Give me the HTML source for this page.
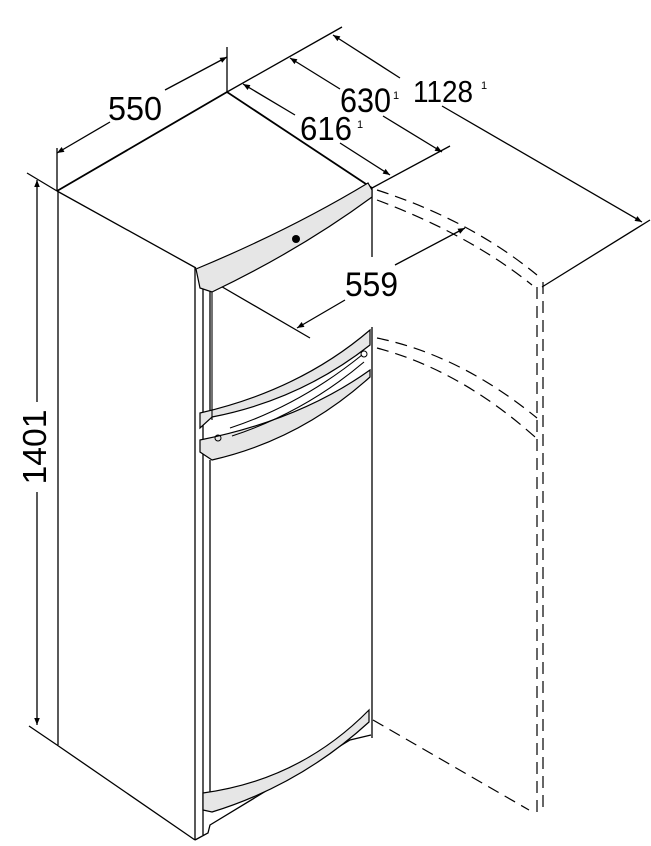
<!DOCTYPE html>
<html><head><meta charset="utf-8"><style>
html,body{margin:0;padding:0;background:#fff;}
svg{display:block;}
text{font-family:"Liberation Sans",sans-serif;fill:#000;}
</style></head><body>
<svg width="651" height="846" viewBox="0 0 651 846" xmlns="http://www.w3.org/2000/svg">
<defs>
<marker id="a" viewBox="0 0 10 10" refX="10" refY="5" markerWidth="9" markerHeight="7" orient="auto-start-reverse" markerUnits="userSpaceOnUse"><path d="M0,1 L10,5 L0,9 z" fill="#000"/></marker>
</defs>
<g stroke="#000" fill="none" stroke-width="1.3">
<line x1="57" y1="148" x2="57" y2="191"/>
<line x1="227" y1="47" x2="227" y2="92"/>
<line x1="227" y1="92" x2="342" y2="27"/>
<line x1="372" y1="188" x2="450" y2="146"/>
<line x1="542" y1="287" x2="650" y2="220"/>
<line x1="27" y1="173" x2="57" y2="191"/>
<line x1="29" y1="726" x2="57" y2="745"/>
<line x1="212" y1="281" x2="310" y2="338"/>
<line x1="57" y1="153" x2="110" y2="122" marker-start="url(#a)"/>
<line x1="165" y1="90" x2="227" y2="57" marker-end="url(#a)"/>
<line x1="243" y1="84" x2="295" y2="115" marker-start="url(#a)"/>
<line x1="340" y1="143" x2="390" y2="175" marker-end="url(#a)"/>
<line x1="290" y1="58" x2="340" y2="89" marker-start="url(#a)"/>
<line x1="383" y1="116" x2="442" y2="152" marker-end="url(#a)"/>
<line x1="333" y1="35" x2="400" y2="78" marker-start="url(#a)"/>
<line x1="442" y1="106" x2="642" y2="222" marker-end="url(#a)"/>
<line x1="465" y1="228" x2="395" y2="265" marker-start="url(#a)"/>
<line x1="345" y1="300" x2="297" y2="328" marker-end="url(#a)"/>
<line x1="37" y1="180" x2="37" y2="402" marker-start="url(#a)"/>
<line x1="37" y1="492" x2="37" y2="725" marker-end="url(#a)"/>
<path d="M57,191 L227,92 L372,188" stroke-width="1.8"/>
<path d="M57,191 L196,268"/>
<line x1="58" y1="191" x2="58" y2="745"/>
<line x1="57" y1="745" x2="195" y2="840"/>
<line x1="195" y1="268" x2="195" y2="840"/>
<line x1="372" y1="188" x2="372" y2="257"/>
<line x1="372" y1="327" x2="372" y2="738"/>
<path d="M195,840 L208,833 L210,825 L350,740 L371,735"/>
<line x1="203" y1="275" x2="203" y2="835"/>
<line x1="210" y1="290" x2="210" y2="415"/>
<line x1="210" y1="460" x2="210" y2="810"/>
</g>
<g stroke="#000" stroke-width="1.2" fill="#e6e6e6">
<path d="M196,269 Q290,230 368,183 L372,190 L372,197 Q300,250 212,292 L200,288 Z"/>
<path d="M200,413 Q300,390 370,330 L370,345 Q300,400 212,417 L200,428 Z"/>
<path d="M200,440 Q300,420 370,370 L370,377 Q300,440 212,460 L200,452 Z"/>
<path d="M203,793 Q300,780 369,710 L369,722 Q300,785 212,812 L203,810 Z"/>
</g>
<g stroke="#000" stroke-width="1.1" fill="none">
<path d="M230,428 Q300,405 362,355"/>
<path d="M232,436 Q305,412 364,362"/>
<line x1="212" y1="292" x2="212" y2="420"/>
</g>
<circle cx="296" cy="239" r="4" fill="#000"/>
<circle cx="218" cy="438" r="3" fill="none" stroke="#000"/>
<circle cx="364" cy="354" r="3" fill="none" stroke="#000"/>
<g stroke="#000" fill="none" stroke-width="1.2" stroke-dasharray="12,7">
<path d="M377,190 Q470,220 537,275"/>
<path d="M377,200 Q470,235 532,285"/>
<line x1="537" y1="287" x2="537" y2="813"/>
<line x1="543" y1="282" x2="543" y2="808"/>
<path d="M377,338 Q460,355 537,418"/>
<path d="M377,348 Q460,370 535,437"/>
<line x1="373" y1="720" x2="529" y2="810"/>
</g>
<text x="108" y="120" font-size="33" textLength="54" lengthAdjust="spacingAndGlyphs">550</text>
<text x="300" y="140" font-size="33" textLength="52" lengthAdjust="spacingAndGlyphs">616</text><text x="357" y="128" font-size="11">1</text>
<text x="340" y="112" font-size="34" textLength="51" lengthAdjust="spacingAndGlyphs">630</text><text x="393" y="99" font-size="11">1</text>
<text x="413" y="102" font-size="31" textLength="60" lengthAdjust="spacingAndGlyphs">1128</text><text x="481" y="89" font-size="11">1</text>
<text x="345" y="296" font-size="34" textLength="53" lengthAdjust="spacingAndGlyphs">559</text>
<text transform="translate(46,447) rotate(-90)" text-anchor="middle" font-size="33" textLength="75" lengthAdjust="spacingAndGlyphs">1401</text>
</svg>
</body></html>
